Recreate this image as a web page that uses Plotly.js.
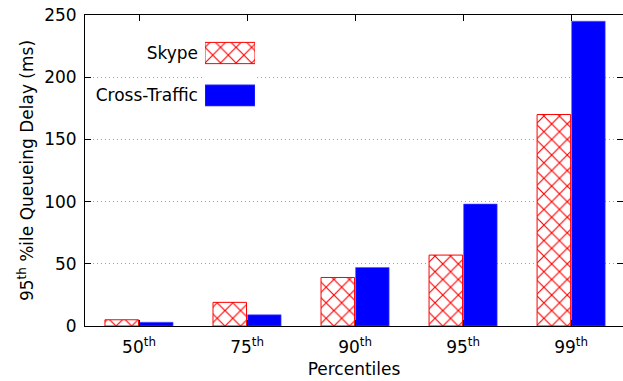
<!DOCTYPE html>
<html>
<head>
<meta charset="utf-8">
<script src="https://cdn.plot.ly/plotly-3.0.1.min.js"></script>
<style>
  html, body { margin: 0; padding: 0; background: #fff; }
  #chart { width: 623px; height: 381px; }
</style>
</head>
<body>
<div id="chart"></div>
<script>
// Percentile buckets on the x axis
const categories = ['50<sup>th</sup>', '75<sup>th</sup>', '90<sup>th</sup>', '95<sup>th</sup>', '99<sup>th</sup>'];
// 95th-percentile queueing delay (ms) per bucket
const skype = [5, 19, 39, 57, 170];
const crossTraffic = [3, 9, 47, 98, 245];
const seriesNames = ['Skype', 'Cross-Traffic'];
const yTicks = [0, 50, 100, 150, 200, 250];

const FONT = 'DejaVu Sans, Verdana, sans-serif';
const FS = 17;
const hatch = {
  color: 'white',
  pattern: { shape: 'x', fgcolor: '#ff0000', bgcolor: 'white', size: 11, solidity: 0.2 },
  line: { color: '#ff0000', width: 1 }
};
const solid = { color: '#0000ff', line: { color: '#5050ff', width: 0.6 } };

const traces = [
  { type: 'bar', name: seriesNames[0], x: categories, y: skype, marker: hatch, showlegend: false },
  { type: 'bar', name: seriesNames[1], x: categories, y: crossTraffic, marker: solid, showlegend: false },
  // key swatches, labelled by the inset axis on their left
  { type: 'bar', orientation: 'h', xaxis: 'x2', yaxis: 'y2', y: [seriesNames[0]], x: [1],
    width: 0.5, offset: -0.25, marker: hatch, showlegend: false },
  { type: 'bar', orientation: 'h', xaxis: 'x2', yaxis: 'y2', y: [seriesNames[1]], x: [1],
    width: 0.5, offset: -0.25, marker: solid, showlegend: false }
];

const layout = {
  width: 623, height: 381,
  margin: { l: 85, r: 0, t: 15, b: 55 },
  paper_bgcolor: 'white', plot_bgcolor: 'white',
  font: { family: FONT, size: FS, color: '#000' },
  barmode: 'group', bargap: 0.36, bargroupgap: 0.03,
  xaxis: {
    type: 'category', range: [-0.5, 4.48],
    showline: true, linecolor: '#000', linewidth: 1, mirror: 'ticks',
    ticks: 'inside', ticklen: 6, tickcolor: '#000', ticklabelstandoff: 6,
    tickfont: { family: FONT, size: FS },
    showgrid: false, zeroline: false,
    title: { text: 'Percentiles', font: { family: FONT, size: FS }, standoff: 6 }
  },
  yaxis: {
    range: [0, 250], tickvals: yTicks,
    showline: true, linecolor: '#000', linewidth: 1, mirror: 'ticks',
    ticks: 'inside', ticklen: 6, tickcolor: '#000', ticklabelstandoff: 4,
    tickfont: { family: FONT, size: FS },
    showgrid: true, gridcolor: '#a0a0a0', griddash: '1px,3px', gridwidth: 1,
    zeroline: false,
    title: { text: '95<sup>th</sup> %ile Queueing Delay (ms)', font: { family: FONT, size: FS }, standoff: 6 }
  },
  xaxis2: { domain: [0.223, 0.316], anchor: 'y2', range: [0, 1], visible: false, fixedrange: true },
  yaxis2: {
    domain: [0.673, 0.946], anchor: 'x2', type: 'category',
    categoryarray: [seriesNames[1], seriesNames[0]], range: [-0.5, 1.5],
    showgrid: false, showline: false, zeroline: false, ticks: '',
    ticklabelstandoff: 6, tickfont: { family: FONT, size: FS }
  },
  shapes: [{
    type: 'rect', xref: 'paper', yref: 'paper', layer: 'between',
    x0: 0.004, x1: 0.331, y0: 0.65, y1: 0.97,
    fillcolor: 'white', line: { width: 0 }
  }]
};

Plotly.newPlot('chart', traces, layout, { displayModeBar: false, staticPlot: true });
</script>
</body>
</html>
